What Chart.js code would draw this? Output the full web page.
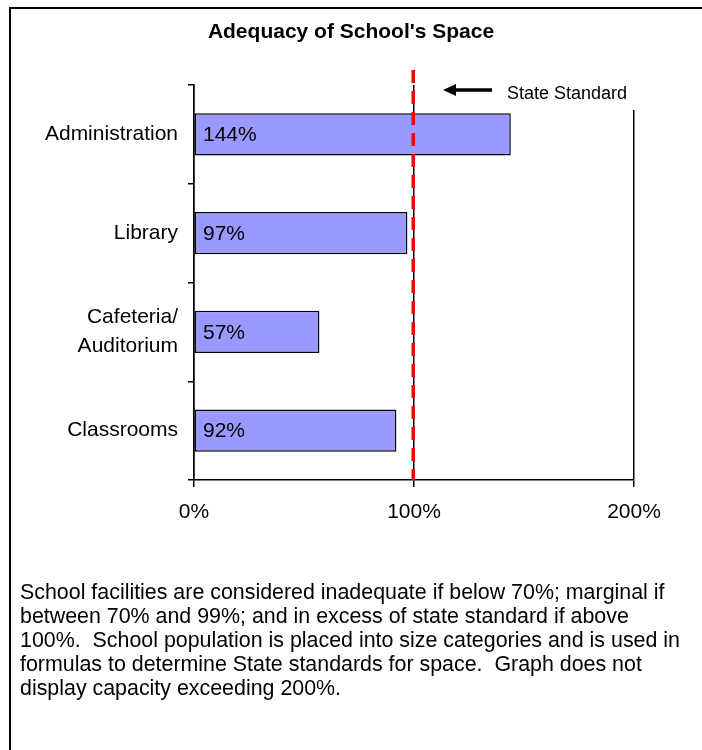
<!DOCTYPE html>
<html>
<head>
<meta charset="utf-8">
<title>Adequacy of School's Space</title>
<script src="https://cdn.jsdelivr.net/npm/chart.js@4.4.0/dist/chart.umd.min.js"></script>
<style>
  html, body { margin: 0; padding: 0; background: #fff; }
  .frame { position: relative; width: 702px; height: 750px; overflow: hidden; }
  .frame .edge { position: absolute; left: 9px; top: 7px; width: 800px; height: 800px;
    border-left: 2px solid #000; border-top: 2px solid #000; }
  #chart { position: absolute; left: 0; top: 0; }
  #title { position: absolute; left: 0; top: 18px; width: 702px; text-align: center; color: #000;
    font: bold 21px "Liberation Sans", Arial, sans-serif; line-height: 26px; }
  #note { position: absolute; left: 20px; top: 580px; color: #000;
    font: 21.4px "Liberation Sans", Arial, sans-serif; line-height: 24px; white-space: nowrap; }
</style>
</head>
<body>
<div class="frame">
  <div class="edge"></div>
  <canvas id="chart" width="702" height="750"></canvas>
  <div id="title">Adequacy of School's Space</div>
  <div id="note">
    School facilities are considered inadequate if below 70%; marginal if<br>
    between 70% and 99%; and in excess of state standard if above<br>
    100%.&nbsp; School population is placed into size categories and is used in<br>
    formulas to determine State standards for space.&nbsp; Graph does not<br>
    display capacity exceeding 200%.
  </div>
</div>

<script>
// data
var categories = ['Administration', 'Library', ['Cafeteria/', 'Auditorium'], 'Classrooms'];
var values = [144, 97, 57, 92];
var xTicks = [0, 100, 200];
var standard = 100;
var standardLabel = 'State Standard';

var FONT = '"Liberation Sans", Arial, sans-serif';
Chart.defaults.font.family = FONT;
Chart.defaults.color = '#000';

// red dashed standard line, arrow, label and the % values inside bars
var standardPlugin = {
  id: 'standardLine',
  afterDatasetsDraw: function(chart) {
    var ctx = chart.ctx;
    var area = chart.chartArea;
    var x = chart.scales.x;
    var meta = chart.getDatasetMeta(0);

    ctx.save();
    ctx.font = '21px ' + FONT;
    ctx.fillStyle = '#000';
    ctx.textBaseline = 'middle';
    ctx.textAlign = 'left';
    meta.data.forEach(function(bar, i) {
      ctx.fillText(values[i] + '%', x.getPixelForValue(0) + 9, bar.y + 1);
    });

    var sx = x.getPixelForValue(standard);
    ctx.strokeStyle = '#ff0000';
    ctx.lineWidth = 3.5;
    ctx.setLineDash([13, 8]);
    ctx.beginPath();
    ctx.moveTo(sx - 0.75, area.top - 15);
    ctx.lineTo(sx - 0.75, area.bottom);
    ctx.stroke();
    ctx.setLineDash([]);

    // label box hides the top of the 200% gridline
    var right = x.getPixelForValue(xTicks[xTicks.length - 1]);
    ctx.fillStyle = '#fff';
    ctx.fillRect(sx + 86, area.top - 14, right - sx - 80, 39);

    // arrow
    var ay = area.top + 5;
    ctx.fillStyle = '#000';
    ctx.strokeStyle = '#000';
    ctx.lineWidth = 3.5;
    ctx.beginPath();
    ctx.moveTo(sx + 40, ay);
    ctx.lineTo(sx + 78, ay);
    ctx.stroke();
    ctx.beginPath();
    ctx.moveTo(sx + 29, ay);
    ctx.lineTo(sx + 42, ay - 6);
    ctx.lineTo(sx + 42, ay + 6);
    ctx.closePath();
    ctx.fill();

    ctx.font = '18px ' + FONT;
    ctx.fillText(standardLabel, sx + 93, ay + 4);
    ctx.restore();
  }
};

new Chart(document.getElementById('chart'), {
  type: 'bar',
  data: {
    labels: categories,
    datasets: [{
      data: values,
      backgroundColor: '#9999ff',
      borderColor: '#000',
      borderWidth: 1.5,
      borderSkipped: false,
      categoryPercentage: 1,
      barPercentage: 0.43
    }]
  },
  options: {
    indexAxis: 'y',
    responsive: false,
    animation: false,
    layout: { padding: { left: 0, right: 68, top: 85, bottom: 0 } },
    plugins: {
      legend: { display: false },
      tooltip: { enabled: false },
      title: { display: false }
    },
    scales: {
      x: {
        min: 0,
        max: 200,
        afterBuildTicks: function(s) { s.ticks = xTicks.map(function(v) { return { value: v }; }); },
        afterFit: function(s) { s.height = 270; },
        ticks: {
          font: { size: 21 },
          color: '#000',
          padding: 13,
          callback: function(v) { return v + '%'; }
        },
        grid: { color: '#000', lineWidth: 1.5, tickLength: 7, tickColor: '#000' },
        border: { color: '#000', width: 1.5 }
      },
      y: {
        afterFit: function(s) { s.width = 194; },
        ticks: { font: { size: 21, lineHeight: 1.35 }, color: '#000', padding: 10 },
        grid: { drawOnChartArea: false, tickLength: 6, tickColor: '#000', lineWidth: 1.5, offset: true },
        border: { color: '#000', width: 1.5 }
      }
    }
  },
  plugins: [standardPlugin]
});
</script>
</body>
</html>
